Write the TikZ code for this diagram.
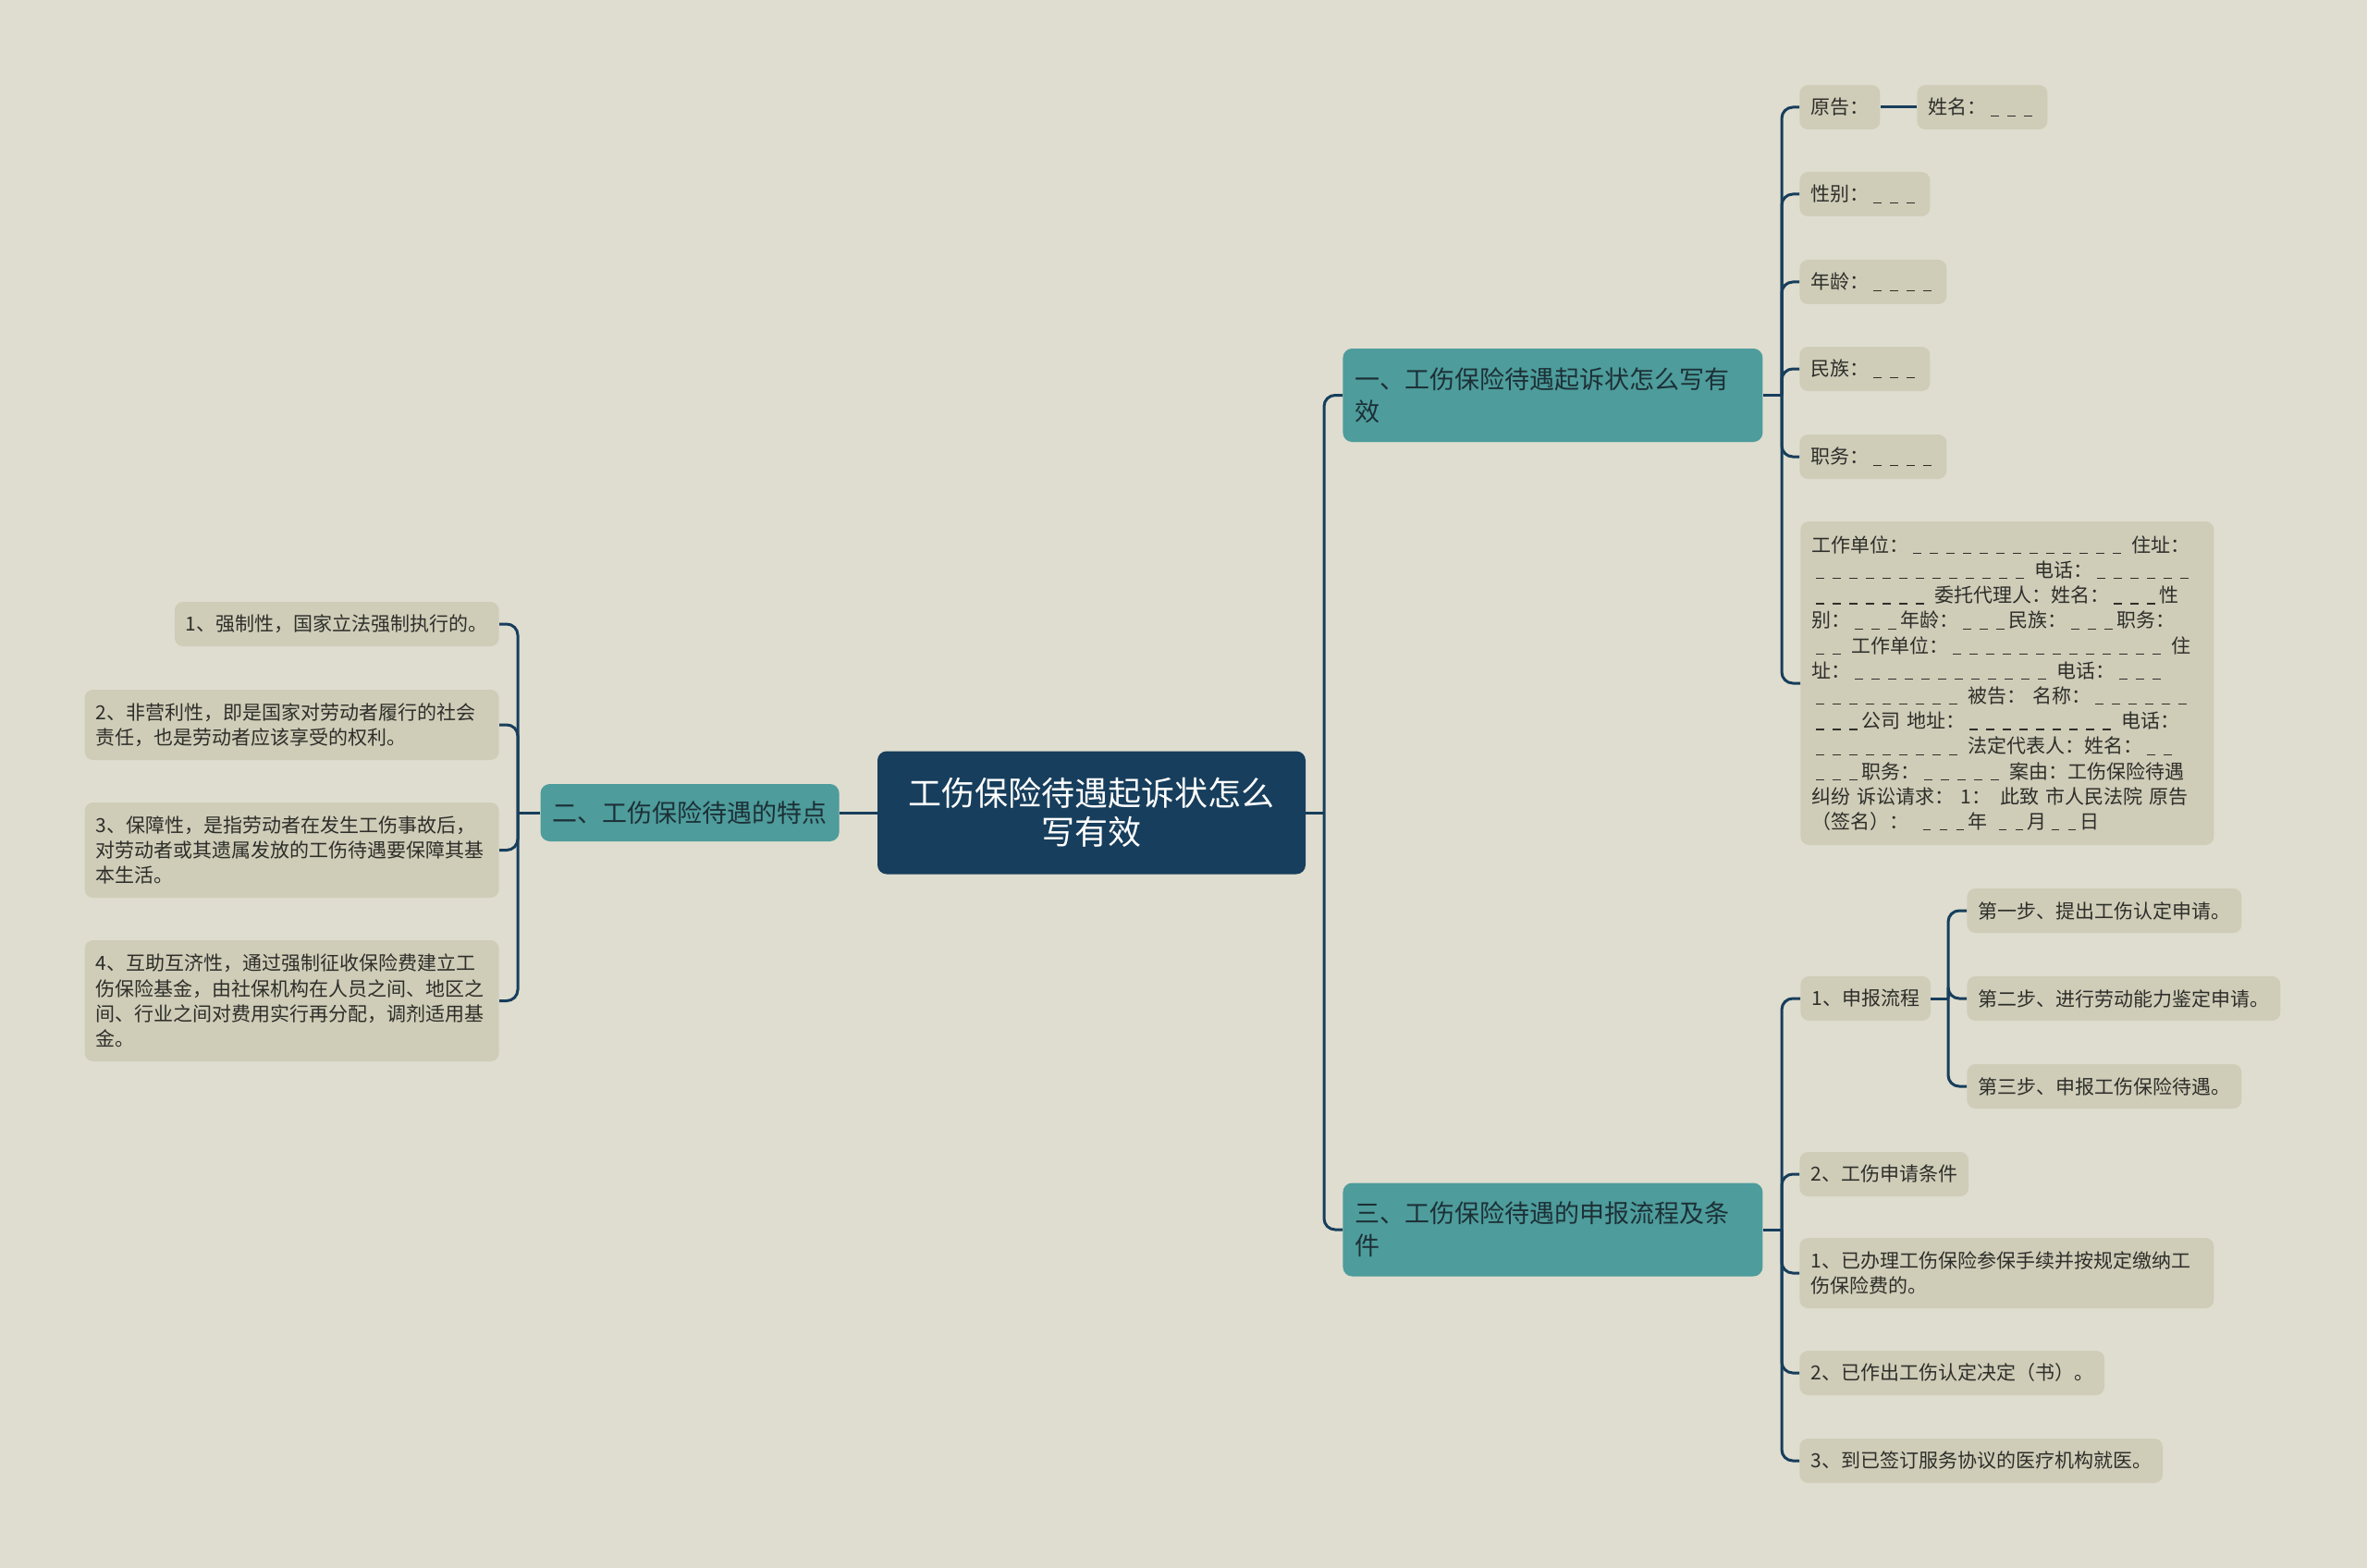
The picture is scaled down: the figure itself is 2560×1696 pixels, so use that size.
\documentclass[tikz,border=0pt]{standalone}
\usepackage{fontspec}
\setmainfont{Noto Sans CJK SC}
\usepackage{xcolor}
\definecolor{paperBack}{HTML}{DFDDCF}
\definecolor{leafBack} {HTML}{CFCDB8}
\definecolor{topicBack}{HTML}{4E9C9C}
\definecolor{rootBack} {HTML}{173E5C}
\definecolor{linkCol}  {HTML}{173E5C}
\definecolor{leafText} {HTML}{2E2E2A}
\definecolor{topicText}{HTML}{1C3036}
\usetikzlibrary{positioning, calc}
\tikzset{
    rootnode/.style={rounded corners=5pt, fill=rootBack, text=white, align=center,
                   font=\fontsize{18}{21}\selectfont, minimum width=231.5pt, minimum height=66.5pt},
    topic/.style={rounded corners=5pt, fill=topicBack, text=topicText, align=left,
                   font=\fontsize{13.5}{17.5}\selectfont, inner xsep=6.5pt},
    leaf/.style={rounded corners=4.5pt, fill=leafBack, text=leafText, align=left,
                   font=\fontsize{10.5}{13.6}\selectfont, inner xsep=6pt, minimum height=24pt},
    link/.style={draw=linkCol, line width=1.5pt},
    elbow/.style={link, rounded corners=6pt},
}
\newcommand{\fillin}[1]{\foreach \k in {1,...,#1}{\makebox[9pt][c]{\rule[-1pt]{4.2pt}{0.6pt}}}}

\begin{document}
\begin{tikzpicture}[x=0.5pt, y=-0.5pt]
    \fill[paperBack] (0,0) rectangle (2560,1696);
    \useasboundingbox (0,0) rectangle (2560,1696);

    \node[rootnode] (root) at (1180.5,879) {工伤保险待遇起诉状怎么\\写有效};

    \node[topic, anchor=west, text width=214pt, minimum height=50.5pt] (claim) at (1452,427.5)
        {一、工伤保险待遇起诉状怎么写有\\效};
    \node[topic, anchor=east, minimum height=31pt] (traits) at (908,879) {二、工伤保险待遇的特点};
    \node[topic, anchor=west, text width=214pt, minimum height=50.5pt] (apply) at (1452,1330)
        {三、工伤保险待遇的申报流程及条\\件};

    \node[leaf, anchor=west] (plaintiff) at (1946,116) {原告：};
    \node[leaf, anchor=west] (pname) at (2073,116) {姓名：\fillin{3}};
    \node[leaf, anchor=west] (gender) at (1946,210) {性别：\fillin{3}};
    \node[leaf, anchor=west] (age) at (1946,305) {年龄：\fillin{4}};
    \node[leaf, anchor=west] (ethnic) at (1946,399) {民族：\fillin{3}};
    \node[leaf, anchor=west] (post) at (1946,494) {职务：\fillin{4}};
    \node[leaf, anchor=west, text width=211.5pt, minimum height=175pt] (detail) at (1947,739) {%
        工作单位：\fillin{13} 住址：\\
        \fillin{13} 电话：\fillin{6}\\
        \fillin{7} 委托代理人：姓名：\fillin{3}性\\
        别：\fillin{3}年龄：\fillin{3}民族：\fillin{3}职务：\\
        \fillin{2} 工作单位：\fillin{13} 住\\
        址：\fillin{12} 电话：\fillin{3}\\
        \fillin{9} 被告： 名称：\fillin{6}\\
        \fillin{3}公司 地址：\fillin{9} 电话：\\
        \fillin{9} 法定代表人：姓名：\fillin{2}\\
        \fillin{3}职务：\fillin{5} 案由：工伤保险待遇\\
        纠纷 诉讼请求： 1：\enspace 此致 市人民法院 原告\\
        （签名）：\enspace\fillin{3}年 \fillin{2}月\fillin{2}日};

    \node[leaf, anchor=west] (flow) at (1947,1080) {1、申报流程};
    \node[leaf, anchor=west] (stepa) at (2127,985) {第一步、提出工伤认定申请。};
    \node[leaf, anchor=west] (stepb) at (2127,1080) {第二步、进行劳动能力鉴定申请。};
    \node[leaf, anchor=west] (stepc) at (2127,1175) {第三步、申报工伤保险待遇。};
    \node[leaf, anchor=west] (cond) at (1946,1270) {2、工伤申请条件};
    \node[leaf, anchor=west, text width=212pt, minimum height=38pt] (conda) at (1946,1377)
        {1、已办理工伤保险参保手续并按规定缴纳工\\伤保险费的。};
    \node[leaf, anchor=west] (condb) at (1946,1485) {2、已作出工伤认定决定（书）。};
    \node[leaf, anchor=west] (condc) at (1946,1580) {3、到已签订服务协议的医疗机构就医。};

    \node[leaf, anchor=east] (tra) at (540,675) {1、强制性，国家立法强制执行的。};
    \node[leaf, anchor=east, text width=212pt, minimum height=38pt] (trb) at (540,784)
        {2、非营利性，即是国家对劳动者履行的社会\\责任，也是劳动者应该享受的权利。};
    \node[leaf, anchor=east, text width=212pt, minimum height=51.5pt] (trc) at (540,919.5)
        {3、保障性，是指劳动者在发生工伤事故后，\\对劳动者或其遗属发放的工伤待遇要保障其基\\本生活。};
    \node[leaf, anchor=east, text width=212pt, minimum height=65.5pt] (trd) at (540,1082.5)
        {4、互助互济性，通过强制征收保险费建立工\\伤保险基金，由社保机构在人员之间、地区之\\间、行业之间对费用实行再分配，调剂适用基\\金。};

    \coordinate (rootj) at (1432,879);
    \coordinate (claimj) at (1927,427.5);
    \coordinate (applyj) at (1927,1330);
    \coordinate (flowj) at (2107,1080);
    \coordinate (traitsj) at (560,879);

    \draw[link] (root.east) -- (rootj);
    \draw[elbow] (rootj) |- (claim.west);
    \draw[elbow] (rootj) |- (apply.west);
    \draw[link] (root.west) -- (traits.east);

    \draw[link] (claim.east) -- (claimj);
    \foreach \n in {plaintiff, gender, age, ethnic, post, detail}
        \draw[elbow] (claimj) |- (\n.west);
    \draw[link] (plaintiff.east) -- (pname.west);

    \draw[link] (apply.east) -- (applyj);
    \foreach \n in {flow, cond, conda, condb, condc}
        \draw[elbow] (applyj) |- (\n.west);
    \draw[link] (flow.east) -- (flowj);
    \foreach \n in {stepa, stepb, stepc}
        \draw[elbow] (flowj) |- (\n.west);

    \draw[link] (traits.west) -- (traitsj);
    \foreach \n in {tra, trb, trc, trd}
        \draw[elbow] (traitsj) |- (\n.east);
\end{tikzpicture}
\end{document}
